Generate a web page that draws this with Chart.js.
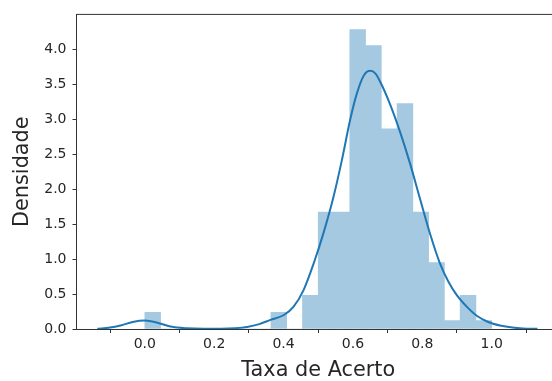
<!DOCTYPE html>
<html>
<head>
<meta charset="utf-8">
<script src="https://cdn.jsdelivr.net/npm/chart.js@4"></script>
<style>
html,body{margin:0;padding:0;background:#fff;overflow:hidden}
#wrap{width:552px;height:381px;position:relative;overflow:hidden}
</style>
</head>
<body>
<div id="wrap"><canvas id="c" width="560" height="381"></canvas></div>
<script>
// Histogram: 22 equal bins from 0.0 to 1.0, density heights
const binStart = 0.0;
const binEnd = 1.0;
const binDensity = [0.24, 0, 0, 0, 0, 0, 0, 0, 0.24, 0, 0.48, 1.67, 1.67, 4.28, 4.05, 2.86, 3.22, 1.67, 0.95, 0.12, 0.48, 0.12];

// KDE curve points
const kdeX = [-0.137, -0.10, -0.07, -0.035, 0.0, 0.036, 0.074, 0.12, 0.17, 0.22, 0.26, 0.295, 0.330, 0.362, 0.401, 0.429, 0.458, 0.487, 0.515, 0.544, 0.568, 0.592, 0.611, 0.631, 0.650, 0.665, 0.679, 0.708, 0.737, 0.765, 0.794, 0.823, 0.85, 0.875, 0.90, 0.928, 0.957, 0.99, 1.024, 1.06, 1.09, 1.132];
const kdeY = [0.004, 0.02, 0.05, 0.10, 0.12, 0.09, 0.035, 0.01, 0.003, 0.004, 0.012, 0.03, 0.07, 0.13, 0.20, 0.32, 0.56, 0.94, 1.37, 1.89, 2.41, 2.99, 3.36, 3.62, 3.69, 3.65, 3.53, 3.20, 2.80, 2.36, 1.85, 1.35, 0.95, 0.68, 0.48, 0.32, 0.19, 0.10, 0.05, 0.02, 0.008, 0.002];

const xTicks = [0.0, 0.2, 0.4, 0.6, 0.8, 1.0];
const yTicks = [0.0, 0.5, 1.0, 1.5, 2.0, 2.5, 3.0, 3.5, 4.0];

const nBins = binDensity.length;
const bw = (binEnd - binStart) / nBins;
const barData = binDensity.map((d, i) => ({x: binStart + (i + 0.5) * bw, y: d}));
const kdeData = kdeX.map((x, i) => ({x: x, y: kdeY[i]}));

const FONT = "'DejaVu Sans', sans-serif";
const TXT = '#262626';
const AX = '#333333';

const topSpine = {
  id: 'topSpine',
  afterDraw(chart) {
    const {ctx, chartArea} = chart;
    ctx.save();
    ctx.strokeStyle = AX;
    ctx.lineWidth = 1;
    ctx.beginPath();
    ctx.moveTo(chartArea.left, chartArea.top);
    ctx.lineTo(chartArea.right + 5, chartArea.top);
    ctx.stroke();
    ctx.restore();
  }
};

new Chart(document.getElementById('c'), {
  type: 'bar',
  data: {
    datasets: [
      {
        type: 'line',
        data: kdeData,
        borderColor: '#1f77b4',
        borderWidth: 2,
        pointRadius: 0,
        fill: false,
        cubicInterpolationMode: 'monotone',
        order: 0
      },
      {
        type: 'bar',
        data: barData,
        backgroundColor: '#a5c9e1',
        borderWidth: 0,
        barPercentage: 1.0,
        categoryPercentage: 1.0,
        grouped: false,
        order: 1
      }
    ]
  },
  options: {
    responsive: false,
    animation: false,
    layout: {padding: {top: 14, left: 0, right: 0, bottom: 0}},
    plugins: {legend: {display: false}, tooltip: {enabled: false}},
    scales: {
      x: {
        type: 'linear',
        min: -0.197,
        max: 1.197,
        offset: false,
        grid: {display: true, drawOnChartArea: false, drawTicks: true, tickLength: 4, tickColor: AX, tickWidth: 1},
        border: {display: true, color: AX, width: 1},
        afterBuildTicks: (s) => { s.ticks = xTicks.map(v => ({value: v})); },
        afterFit: (s) => { s.height = 52; },
        ticks: {
          color: TXT,
          font: {family: FONT, size: 14},
          padding: 3,
          maxRotation: 0,
          autoSkip: false,
          callback: (v) => Number(v).toFixed(1)
        },
        title: {
          display: true,
          text: 'Taxa de Acerto',
          color: TXT,
          font: {family: FONT, size: 20.8, lineHeight: 1},
          padding: {top: -7.5, bottom: 0}
        }
      },
      y: {
        type: 'linear',
        min: 0,
        max: 4.496,
        grid: {display: true, drawOnChartArea: false, drawTicks: true, tickLength: 4, tickColor: AX, tickWidth: 1},
        border: {display: true, color: AX, width: 1},
        afterBuildTicks: (s) => { s.ticks = yTicks.map(v => ({value: v})); },
        afterFit: (s) => { s.width = 76.5; },
        ticks: {
          color: TXT,
          font: {family: FONT, size: 14},
          padding: 6,
          autoSkip: false,
          callback: (v) => Number(v).toFixed(1)
        },
        title: {
          display: true,
          text: 'Densidade',
          color: TXT,
          font: {family: FONT, size: 20.8, lineHeight: 1},
          padding: {top: 12.5, bottom: 0}
        }
      }
    }
  },
  plugins: [topSpine]
});
</script>
</body>
</html>
